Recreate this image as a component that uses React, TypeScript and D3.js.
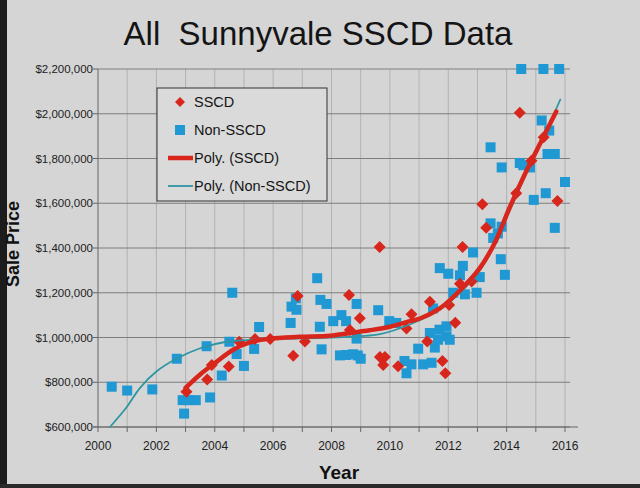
import React from "react";
import * as d3 from "d3";

const W = 640;
const H = 488;

// Non-SSCD sales (year, price)
const nonYear = [
  2000.47, 2001.0, 2001.86, 2002.7, 2003.72, 2004.5, 2004.6, 2002.9, 2003.1, 2003.35,
  2002.95, 2003.84, 2004.24, 2004.75, 2005.0, 2005.52, 2005.35, 2006.6, 2006.63, 2006.8,
  2006.78, 2007.51, 2007.62, 2007.83, 2008.86, 2009.6, 2007.6, 2008.06, 2008.34, 2008.5,
  2009.98, 2010.22, 2008.86, 2007.66, 2008.29, 2008.5, 2008.74, 2008.9, 2009.0, 2010.5,
  2010.57, 2010.74, 2011.14, 2011.43, 2010.97, 2011.54, 2011.37, 2011.7, 2011.94, 2011.94,
  2011.65, 2012.05, 2011.48, 2012.17, 2012.57, 2012.97, 2011.71, 2012.0, 2012.5, 2012.4,
  2013.08, 2012.85, 2013.54, 2013.8, 2013.94, 2013.45, 2013.83, 2013.7, 2014.5, 2015.26,
  2015.8, 2015.2, 2015.46, 2013.45, 2013.83, 2014.45, 2014.57, 2014.8, 2015.4, 2015.65,
  2016.0, 2015.34, 2014.93, 2015.65,
];
const nonPrice = [
  780000, 763000, 768000, 905000, 961000, 981000, 1200000, 720000, 720000, 720000,
  660000, 732000, 830000, 926000, 873000, 1047000, 949000, 1065000, 1138000, 1124000,
  1175000, 1265000, 1168000, 1150000, 1150000, 1122000, 1048000, 1073000, 1100000, 1073000,
  1073000, 1065000, 995000, 947000, 920000, 922000, 925000, 920000, 905000, 895000,
  840000, 880000, 880000, 887000, 950000, 955000, 1020000, 1035000, 1050000, 1005000,
  990000, 990000, 1130000, 1200000, 1193000, 1200000, 1310000, 1285000, 1320000, 1278000,
  1270000, 1380000, 1445000, 1350000, 1280000, 1510000, 1495000, 1465000, 2200000, 2200000,
  2200000, 1970000, 1925000, 1850000, 1760000, 1780000, 1770000, 1760000, 1820000, 1820000,
  1695000, 1645000, 1615000, 1490000,
];

// SSCD sales (year, price)
const sscdYear = [
  2003.03, 2003.74, 2003.9, 2004.48, 2004.84, 2005.38, 2005.9, 2006.69, 2007.09, 2006.84,
  2008.6, 2008.97, 2008.63, 2009.66, 2009.83, 2009.77, 2010.28, 2009.65, 2012.49, 2012.4,
  2012.8, 2011.37, 2010.74, 2012.03, 2010.57, 2012.24, 2011.28, 2011.8, 2011.9, 2013.17,
  2013.3, 2014.45, 2015.27, 2014.85, 2014.33, 2015.74,
];
const sscdPrice = [
  757000, 812000, 877000, 870000, 981000, 993000, 993000, 918000, 982000, 1185000,
  1190000, 1086000, 1033000, 913000, 913000, 877000, 872000, 1405000, 1405000, 1240000,
  1250000, 1160000, 1104000, 1145000, 1040000, 1066000, 982000, 895000, 840000, 1595000,
  1490000, 2005000, 1895000, 1790000, 1645000, 1610000,
];

// Polynomial trendlines
const trendSscdYear = [
  2003.0, 2003.5, 2004.06, 2004.63, 2005.2, 2005.9, 2006.9, 2007.95, 2008.63, 2009.3,
  2010.0, 2010.68, 2011.03, 2011.71, 2012.4, 2013.08, 2013.6, 2014.1, 2014.68, 2015.2, 2015.7,
];
const trendSscdPrice = [
  775000, 835000, 891000, 945000, 978000, 995000, 1003000, 1008000, 1020000, 1032000,
  1048000, 1073000, 1085000, 1130000, 1210000, 1310000, 1425000, 1580000, 1745000, 1880000, 2010000,
];
const trendNonYear = [
  2000.41, 2000.98, 2001.44, 2002.0, 2002.7, 2003.5, 2004.4, 2005.3, 2006.5, 2007.95,
  2009.66, 2010.68, 2011.71, 2012.4, 2013.08, 2013.6, 2014.1, 2014.68, 2015.2, 2015.85,
];
const trendNonPrice = [
  600000, 688000, 775000, 848000, 906000, 952000, 981000, 990000, 995000, 1000000,
  1015000, 1058000, 1125000, 1200000, 1300000, 1415000, 1565000, 1735000, 1875000, 2067000,
];

const yTicks = [600000, 800000, 1000000, 1200000, 1400000, 1600000, 1800000, 2000000, 2200000];
const xTickLabels = [2000, 2002, 2004, 2006, 2008, 2010, 2012, 2014, 2016];
const xMinor = d3.range(2000, 2017);

const legendItems = ["SSCD", "Non-SSCD", "Poly. (SSCD)", "Poly. (Non-SSCD)"];

const RED = "#d8261c";
const BLUE = "#1f98d3";
const TEAL = "#2e96a3";
const FONT = "'Liberation Sans', Arial, sans-serif";

export default function App() {
  const x = d3.scaleLinear().domain([2000, 2016]).range([98, 565]);
  const y = d3.scaleLinear().domain([600000, 2200000]).range([427, 69]);
  const fmt = (v: number) => "$" + d3.format(",")(v);

  const line = d3
    .line<[number, number]>()
    .x((d) => x(d[0]))
    .y((d) => y(d[1]))
    .curve(d3.curveCatmullRom.alpha(0.5));

  const sscdTrend = line(trendSscdYear.map((v, i) => [v, trendSscdPrice[i]] as [number, number])) || "";
  const nonTrend = line(trendNonYear.map((v, i) => [v, trendNonPrice[i]] as [number, number])) || "";

  const sq = 10;
  const dm = 6;
  const diamond = (cx: number, cy: number) =>
    `M${cx},${cy - dm}L${cx + dm},${cy}L${cx},${cy + dm}L${cx - dm},${cy}Z`;

  const gridRight = 570;

  return (
    <div style={{ position: "absolute", left: 0, top: 0 }}>
      <svg width={W} height={H} style={{ display: "block", fontFamily: FONT }}>
        <rect x={0} y={0} width={W} height={H} fill="#d5d5d5" />
        <rect x={0} y={0} width={7} height={H} fill="#1c1c1c" />
        <rect x={0} y={484} width={W} height={4} fill="#2a2a2a" />

        {/* Title */}
        <text x={318} y={45} textAnchor="middle" fontSize={33} fill="#141414" style={{ whiteSpace: "pre" }}>
          {"All  Sunnyvale SSCD Data"}
        </text>

        {/* vertical grid per year */}
        {xMinor.map((v) => (
          <line key={"vg" + v} x1={x(v)} x2={x(v)} y1={y(2200000)} y2={y(600000)} stroke="#a9a9a9" strokeWidth={0.8} />
        ))}
        {/* horizontal grid */}
        {yTicks.map((v) => (
          <line key={"hg" + v} x1={x(2000)} x2={gridRight} y1={y(v)} y2={y(v)} stroke="#7e7e7e" strokeWidth={1} />
        ))}
        {/* axes */}
        <line x1={x(2000)} x2={x(2000)} y1={y(2200000)} y2={y(600000)} stroke="#777" strokeWidth={1} />
        <line x1={x(2000) - 5} x2={578} y1={y(600000)} y2={y(600000)} stroke="#666" strokeWidth={1.2} />
        {xMinor.map((v) => (
          <line key={"xt" + v} x1={x(v)} x2={x(v)} y1={y(600000)} y2={y(600000) + 5} stroke="#666" strokeWidth={1} />
        ))}
        {yTicks.map((v) => (
          <line key={"yt" + v} x1={x(2000) - 5} x2={x(2000)} y1={y(v)} y2={y(v)} stroke="#666" strokeWidth={1} />
        ))}

        {/* y tick labels */}
        {yTicks.map((v) => (
          <text key={"yl" + v} x={93} y={y(v) + 4} textAnchor="end" fontSize={11.5} fill="#222">
            {fmt(v)}
          </text>
        ))}
        {/* x tick labels */}
        {xTickLabels.map((v) => (
          <text key={"xl" + v} x={x(v)} y={450} textAnchor="middle" fontSize={12} fill="#222">
            {v}
          </text>
        ))}

        {/* axis titles */}
        <text transform="translate(19,244) rotate(-90)" textAnchor="middle" fontSize={18} fontWeight="bold" fill="#111">
          Sale Price
        </text>
        <text x={339} y={479} textAnchor="middle" fontSize={19} fontWeight="bold" fill="#111">
          Year
        </text>

        {/* Non-SSCD squares */}
        {nonYear.map((v, i) => (
          <rect key={"n" + i} x={x(v) - sq / 2} y={y(nonPrice[i]) - sq / 2} width={sq} height={sq} fill={BLUE} />
        ))}
        {/* SSCD diamonds */}
        {sscdYear.map((v, i) => (
          <path key={"s" + i} d={diamond(x(v), y(sscdPrice[i]))} fill={RED} />
        ))}

        {/* trendlines */}
        <path d={nonTrend} fill="none" stroke={TEAL} strokeWidth={1.8} />
        <path d={sscdTrend} fill="none" stroke={RED} strokeWidth={4.5} strokeLinecap="round" />

        {/* Legend */}
        <rect x={157} y={88} width={170} height={113} fill="#dadada" stroke="#333" strokeWidth={1} />
        {legendItems.map((t, i) => {
          const cy = 102 + i * 28;
          return (
            <g key={"lg" + i}>
              {i === 0 && <path d={`M180,${cy - 5}L185,${cy}L180,${cy + 5}L175,${cy}Z`} fill={RED} />}
              {i === 1 && <rect x={175} y={cy - 5} width={10} height={10} fill={BLUE} />}
              {i === 2 && <line x1={168} x2={193} y1={cy} y2={cy} stroke={RED} strokeWidth={4.5} />}
              {i === 3 && <line x1={168} x2={193} y1={cy} y2={cy} stroke={TEAL} strokeWidth={1.8} />}
              <text x={194} y={cy + 5} fontSize={14.5} fill="#151515">
                {t}
              </text>
            </g>
          );
        })}
      </svg>
    </div>
  );
}
